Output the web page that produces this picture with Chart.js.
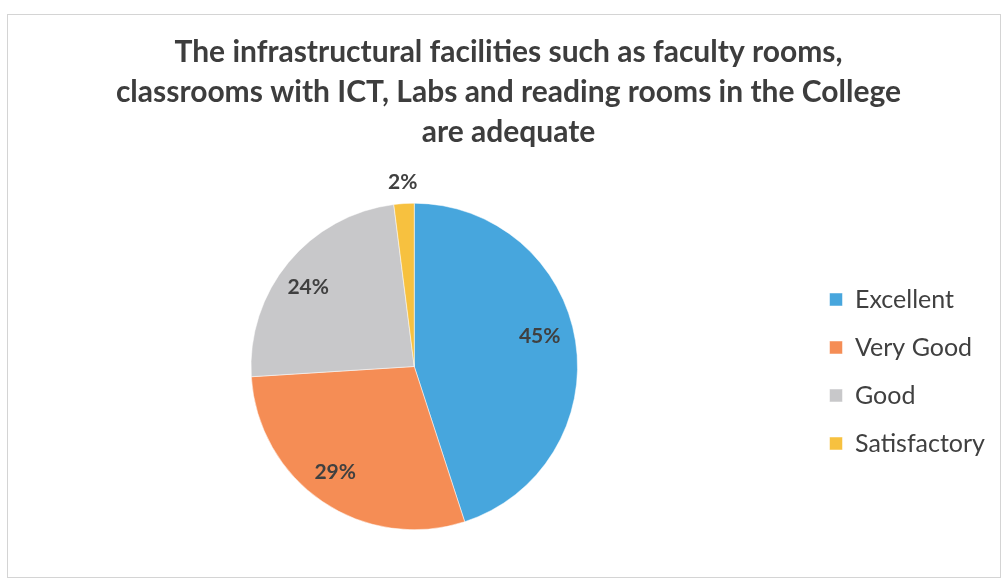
<!DOCTYPE html>
<html lang="en">

<head>
    <meta charset="UTF-8">
    <script src="https://cdn.jsdelivr.net/npm/chart.js"></script>
    <title>Infrastructural facilities</title>
    <style>
        html, body { margin: 0; padding: 0; background: #ffffff; }
        #wrap { width: 1006px; height: 584px; position: relative; }
    </style>
</head>

<body>
    <div id="wrap">
        <canvas id="chart" width="1006" height="584"></canvas>
    </div>

    <script>
        // data
        const categories = ['Excellent', 'Very Good', 'Good', 'Satisfactory'];
        const percentages = [45, 29, 24, 2];
        const sliceColors = ['#47a6dd', '#f58d55', '#c8c8ca', '#f7c13f'];
        const titleLines = [
            'The infrastructural facilities such as faculty rooms,',
            'classrooms with ICT, Labs and reading rooms in the College',
            'are adequate'
        ];

        // where each % label sits: fraction of radius and angle nudge (deg)
        const labelRadius = [0.79, 0.81, 0.81, 1.13];
        const labelNudge = [-4.5, 2.5, -2.9, 0];

        const frame = {
            id: 'frame',
            beforeDraw(chart) {
                const ctx = chart.ctx;
                ctx.save();
                ctx.strokeStyle = '#d4d4d4';
                ctx.lineWidth = 1;
                ctx.strokeRect(7.5, 14.5, 993, 563);
                ctx.restore();
            }
        };

        const pctLabels = {
            id: 'pctLabels',
            afterDatasetsDraw(chart) {
                const ctx = chart.ctx;
                const meta = chart.getDatasetMeta(0);
                ctx.save();
                ctx.font = 'bold 21px Lato';
                ctx.fillStyle = '#404040';
                ctx.textAlign = 'center';
                ctx.textBaseline = 'middle';
                meta.data.forEach(function (arc, i) {
                    const p = arc.getProps(['x', 'y', 'startAngle', 'endAngle', 'outerRadius'], true);
                    const mid = (p.startAngle + p.endAngle) / 2 + labelNudge[i] * Math.PI / 180;
                    const r = p.outerRadius * labelRadius[i];
                    ctx.fillText(percentages[i] + '%', p.x + r * Math.cos(mid), p.y + r * Math.sin(mid));
                });
                ctx.restore();
            }
        };

        new Chart('chart', {
            type: 'pie',
            data: {
                labels: categories,
                datasets: [{
                    data: percentages,
                    backgroundColor: sliceColors,
                    borderColor: '#ffffff',
                    borderWidth: 0.5
                }]
            },
            options: {
                responsive: false,
                animation: false,
                layout: {
                    padding: { left: 22, right: 11, top: 10, bottom: 54 }
                },
                plugins: {
                    title: {
                        display: true,
                        text: titleLines,
                        color: '#3d3d3d',
                        font: { family: 'Lato', weight: 'bold', size: 30, lineHeight: 1.333 },
                        padding: { top: 22, bottom: 51 }
                    },
                    legend: {
                        position: 'right',
                        fullSize: false,
                        title: {
                            display: true,
                            text: ' ',
                            padding: 0,
                            font: { size: 10, lineHeight: 1 }
                        },
                        labels: {
                            boxWidth: 13,
                            boxHeight: 13,
                            padding: 23,
                            color: '#404040',
                            font: { family: 'Lato', size: 25 }
                        }
                    },
                    tooltip: { enabled: false }
                }
            },
            plugins: [frame, pctLabels]
        });
    </script>
</body>

</html>
